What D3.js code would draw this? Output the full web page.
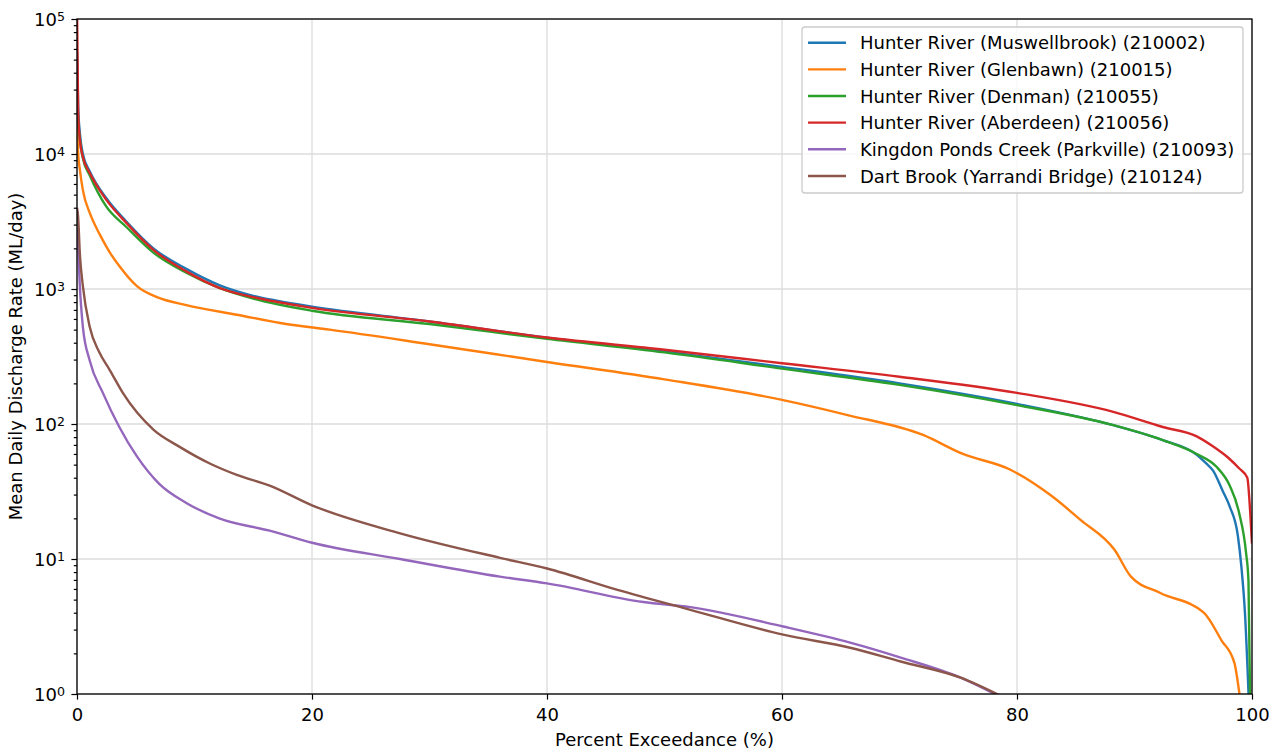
<!DOCTYPE html>
<html>
<head>
<meta charset="utf-8">
<script src="https://cdn.jsdelivr.net/npm/d3@7"></script>
<style>
  body { margin: 0; background: #fff; }
  svg { display: block; }
  text { font-family: "DejaVu Sans", sans-serif; fill: #000; }
</style>
</head>
<body>
<svg id="chart" width="1280" height="755"></svg>
<script>
// tick values
const xTicks = [0, 20, 40, 60, 80, 100];
const yTicks = [1, 10, 100, 1000, 10000, 100000];

// gauging stations, in legend order
const stationNames = [
    "Hunter River (Muswellbrook) (210002)",
    "Hunter River (Glenbawn) (210015)",
    "Hunter River (Denman) (210055)",
    "Hunter River (Aberdeen) (210056)",
    "Kingdon Ponds Creek (Parkville) (210093)",
    "Dart Brook (Yarrandi Bridge) (210124)"
];
const stationColors = ["#1f77b4", "#ff7f0e", "#2ca02c", "#d62728", "#9467bd", "#8c564b"];

// percent exceedance / flow (ML/day)
const pct210002 = [0, 0.1, 0.25, 0.5, 1.1, 2.5, 4.2, 6.5, 9.3, 12.1, 15, 17.8, 20, 30, 40, 50, 60, 70, 80, 88.2, 92.4, 95.3, 96.1, 96.7, 97.5, 98.1, 98.8, 99.1, 99.4, 99.75];
const flow210002 = [56000, 22400, 14100, 10000, 7400, 4700, 3160, 2000, 1410, 1070, 890, 795, 740, 575, 435, 345, 265, 200, 141, 98, 76, 59, 51, 45, 32, 24.5, 14.8, 8.7, 4.0, 0.8];

const pct210015 = [0, 0.1, 0.25, 0.5, 1.1, 1.9, 2.8, 3.6, 5.1, 6.8, 9.3, 13.6, 17.8, 21.5, 30, 40, 50, 60, 65.5, 72, 75.4, 79.4, 82.9, 85.4, 88.3, 89.7, 92.2, 95.9, 97.4, 98.5, 99.0];
const flow210015 = [17800, 10000, 7600, 5400, 3630, 2570, 1860, 1480, 1050, 870, 760, 645, 550, 500, 390, 288, 214, 151, 117, 83, 60, 46, 29.5, 19.5, 11.7, 7.4, 5.6, 4.0, 2.5, 1.7, 0.9];

const pct210055 = [0, 0.1, 0.25, 0.5, 1.1, 2.5, 4.2, 6.5, 9.3, 12.1, 15, 20, 30, 40, 50, 60, 70, 80, 88.2, 92.4, 95.3, 97, 98.1, 98.9, 99.5, 99.7, 99.85];
const flow210055 = [31600, 17800, 12600, 9300, 6900, 4070, 2880, 1860, 1320, 1020, 850, 690, 550, 427, 339, 257, 195, 138, 98, 76, 60, 48, 35, 22, 11, 6.9, 0.8];

const pct210056 = [0, 0.1, 0.25, 0.5, 1.1, 2.5, 4.2, 6.5, 9.3, 12.1, 15, 20, 30, 40, 50, 60, 70, 80, 88.2, 92.4, 95.3, 96.6, 98.0, 98.9, 99.6, 99.85, 100];
const flow210056 = [120000, 20000, 12600, 9500, 7200, 4570, 3090, 1950, 1350, 1020, 870, 725, 575, 437, 355, 282, 224, 170, 123, 95, 81, 69, 56, 47, 40, 22, 13];

const pct210093 = [0, 0.1, 0.23, 0.5, 1.08, 2.2, 3.6, 5.1, 7.0, 9.3, 12.1, 16.4, 20, 27.5, 36, 40, 48.2, 52.2, 60.1, 65.8, 70.1, 75.2, 78.6];
const flow210093 = [2800, 2000, 1100, 525, 295, 170, 95, 57.5, 36, 26, 20, 16.2, 13.2, 10, 7.4, 6.6, 4.8, 4.4, 3.16, 2.4, 1.86, 1.32, 0.95];

const pct210124 = [0, 0.09, 0.25, 0.5, 1.08, 1.9, 2.8, 3.9, 6.5, 8.7, 11.3, 13.6, 16.4, 20, 27.5, 36, 40, 46, 52.2, 60.1, 65.8, 70.1, 75.2, 78.8];
const flow210124 = [4000, 3470, 1780, 1050, 525, 340, 250, 170, 91, 68, 51, 42, 35, 25, 15.5, 10.2, 8.5, 5.9, 4.2, 2.75, 2.2, 1.74, 1.32, 0.95];

const stationPct = [pct210002, pct210015, pct210055, pct210056, pct210093, pct210124];
const stationFlow = [flow210002, flow210015, flow210055, flow210056, flow210093, flow210124];

const svg = d3.select("#chart");
const margin = { left: 77, top: 19, right: 1252, bottom: 694 };
const fontSize = 18;

const x = d3.scaleLinear().domain([0, 100]).range([margin.left, margin.right]);
const y = d3.scaleLog().domain([1, 100000]).range([margin.bottom, margin.top]);

// grid
svg.append("g")
    .selectAll("line")
    .data(xTicks)
    .enter()
    .append("line")
    .attr("x1", d => x(d)).attr("x2", d => x(d))
    .attr("y1", margin.top).attr("y2", margin.bottom)
    .attr("stroke", "#dcdcdc").attr("stroke-width", 1.3);

svg.append("g")
    .selectAll("line")
    .data(yTicks)
    .enter()
    .append("line")
    .attr("x1", margin.left).attr("x2", margin.right)
    .attr("y1", d => y(d)).attr("y2", d => y(d))
    .attr("stroke", "#dcdcdc").attr("stroke-width", 1.3);

// curves
svg.append("clipPath").attr("id", "plot-clip")
    .append("rect")
    .attr("x", margin.left).attr("y", margin.top)
    .attr("width", margin.right - margin.left)
    .attr("height", margin.bottom - margin.top);

let line = d3.line()
    .x(d => x(d[0]))
    .y(d => y(d[1]))
    .curve(d3.curveMonotoneX);

let curves = svg.append("g").attr("clip-path", "url(#plot-clip)");
stationPct.forEach(function (pcts, i) {
    let pts = pcts.map((p, j) => [p, stationFlow[i][j]]);
    curves.append("path")
        .datum(pts)
        .attr("d", line)
        .attr("fill", "none")
        .attr("stroke", stationColors[i])
        .attr("stroke-width", 2.4)
        .attr("stroke-linejoin", "round");
});

// minor log ticks
let minorTicks = [];
for (let k = 0; k < 5; k++) {
    for (let m = 2; m <= 9; m++) minorTicks.push(m * Math.pow(10, k));
}

let yAxis = svg.append("g").attr("transform", `translate(${margin.left},0)`);
yAxis.call(d3.axisLeft(y).tickValues(yTicks).tickFormat("").tickSize(5.6).tickSizeOuter(0));
yAxis.append("g").call(d3.axisLeft(y).tickValues(minorTicks).tickFormat("").tickSize(3.2).tickSizeOuter(0));
yAxis.selectAll(".domain").remove();
yAxis.selectAll("line").attr("stroke", "#000").attr("stroke-width", 1.2);

let yLabels = svg.append("g")
    .selectAll("text")
    .data(yTicks)
    .enter()
    .append("text")
    .attr("x", 65)
    .attr("y", d => y(d) + 6.6)
    .attr("text-anchor", "end")
    .style("font-size", fontSize + "px");
yLabels.append("tspan").text("10");
yLabels.append("tspan")
    .attr("dy", -4.5)
    .style("font-size", "12.6px")
    .text(d => Math.round(Math.log10(d)));

let xAxis = svg.append("g").attr("transform", `translate(0,${margin.bottom})`);
xAxis.call(d3.axisBottom(x).tickValues(xTicks).tickSize(5.6).tickPadding(8.4).tickSizeOuter(0));
xAxis.selectAll(".domain").remove();
xAxis.selectAll("line").attr("stroke", "#000").attr("stroke-width", 1.2);
xAxis.selectAll("text")
    .style("font-size", fontSize + "px")
    .style("font-family", "DejaVu Sans")
    .attr("fill", "#000");

// frame
svg.append("rect")
    .attr("x", margin.left).attr("y", margin.top)
    .attr("width", margin.right - margin.left)
    .attr("height", margin.bottom - margin.top)
    .attr("fill", "none")
    .attr("stroke", "#000")
    .attr("stroke-width", 1.3);

// axis titles
svg.append("text")
    .attr("x", (margin.left + margin.right) / 2)
    .attr("y", 746)
    .attr("text-anchor", "middle")
    .style("font-size", fontSize + "px")
    .text("Percent Exceedance (%)");

svg.append("text")
    .attr("transform", `translate(22,${(margin.top + margin.bottom) / 2}) rotate(-90)`)
    .attr("text-anchor", "middle")
    .style("font-size", fontSize + "px")
    .text("Mean Daily Discharge Rate (ML/day)");

// legend
let legend = svg.append("g");
legend.append("rect")
    .attr("x", 802).attr("y", 27)
    .attr("width", 441).attr("height", 166)
    .attr("rx", 3)
    .attr("fill", "#fff").attr("fill-opacity", 0.8)
    .attr("stroke", "#cccccc").attr("stroke-width", 1.3);

let rows = legend.selectAll("g")
    .data(stationNames)
    .enter()
    .append("g")
    .attr("transform", (d, i) => `translate(0,${42.7 + i * 26.65})`);
rows.append("line")
    .attr("x1", 808).attr("x2", 846)
    .attr("stroke", (d, i) => stationColors[i])
    .attr("stroke-width", 2.4);
rows.append("text")
    .attr("x", 860)
    .attr("y", 6.6)
    .style("font-size", fontSize + "px")
    .text(d => d);
</script>
</body>
</html>
